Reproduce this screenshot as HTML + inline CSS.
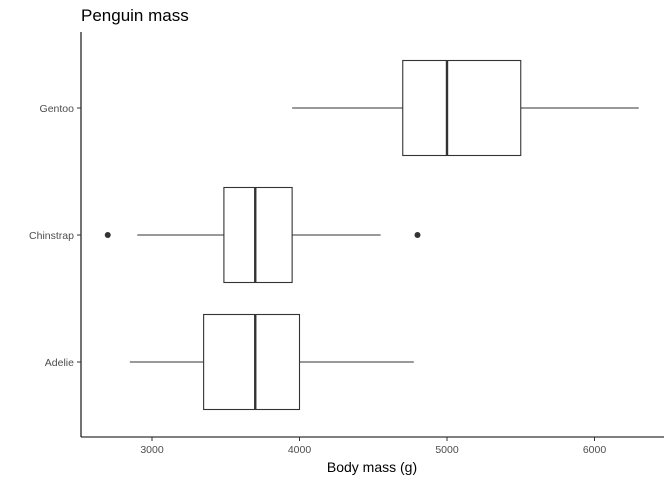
<!DOCTYPE html>
<html><head><meta charset="utf-8"><style>
body{margin:0;background:#fff;}
svg{display:block;font-family:"Liberation Sans",sans-serif;}
</style></head><body>
<svg id="chart" width="672" height="480">
<rect width="672" height="480" fill="#fff"/>
<text x="81" y="21" font-size="17" fill="#000">Penguin mass</text>
<line x1="81" y1="32" x2="81" y2="437" stroke="#000" stroke-width="1.1"/>
<line x1="81" y1="437" x2="664" y2="437" stroke="#000" stroke-width="1.1"/>
<text x="372" y="472" font-size="14" text-anchor="middle">Body mass (g)</text>
<g id="marks"></g>
</svg>
<script>
const species = ["Adelie", "Chinstrap", "Gentoo"];
const whiskerLow = [2850, 2900, 3950];
const q1 = [3350, 3487.5, 4700];
const median = [3700, 3700, 5000];
const q3 = [4000, 3950, 5500];
const whiskerHigh = [4775, 4550, 6300];
const outlierSpecies = ["Chinstrap", "Chinstrap"];
const outlierValues = [2700, 4800];
const xTicks = [3000, 4000, 5000, 6000];

const NS = "http://www.w3.org/2000/svg";
const g = document.getElementById("marks");
const svg = document.getElementById("chart");
function xs(v){ return 152 + (v - 3000) * 0.1475; }
function ys(i){ return 362 - i * 127; }
const halfBox = 47.5;
function mk(tag, attrs, parent){
  const e = document.createElementNS(NS, tag);
  for (const k in attrs) e.setAttribute(k, attrs[k]);
  (parent || g).appendChild(e);
  return e;
}
xTicks.forEach(t => {
  const l = mk("line", {x1: xs(t), x2: xs(t), y1: 437, y2: 441, stroke: "#333"});
  
  
  const tx = mk("text", {x: xs(t), y: 453, "font-size": 10.5, fill: "#4d4d4d", "text-anchor": "middle"});
  tx.textContent = t;
  
  
});
species.forEach((s, i) => {
  const y = ys(i);
  const tk = mk("line", {x1: 77, x2: 81, y1: y, y2: y, stroke: "#333"});
  
  
  const lab = mk("text", {x: 74, y: y + 4, "font-size": 10.5, fill: "#4d4d4d", "text-anchor": "end"});
  lab.textContent = s;
  
  
  const grp = mk("g", {});
  
  
  mk("line", {x1: xs(whiskerLow[i]), x2: xs(q1[i]), y1: y, y2: y, stroke: "#333", "stroke-width": 1.1}, grp);
  mk("line", {x1: xs(q3[i]), x2: xs(whiskerHigh[i]), y1: y, y2: y, stroke: "#333", "stroke-width": 1.1}, grp);
  mk("rect", {x: xs(q1[i]), y: y - halfBox, width: xs(q3[i]) - xs(q1[i]), height: halfBox * 2, fill: "#fff", stroke: "#333", "stroke-width": 1.1}, grp);
  mk("line", {x1: xs(median[i]), x2: xs(median[i]), y1: y - halfBox, y2: y + halfBox, stroke: "#333", "stroke-width": 2.4}, grp);
});
outlierValues.forEach((v, j) => {
  const i = species.indexOf(outlierSpecies[j]);
  const c = mk("circle", {cx: xs(v), cy: ys(i), r: 3, fill: "#333"});
  
  
});
</script>
</body></html>
